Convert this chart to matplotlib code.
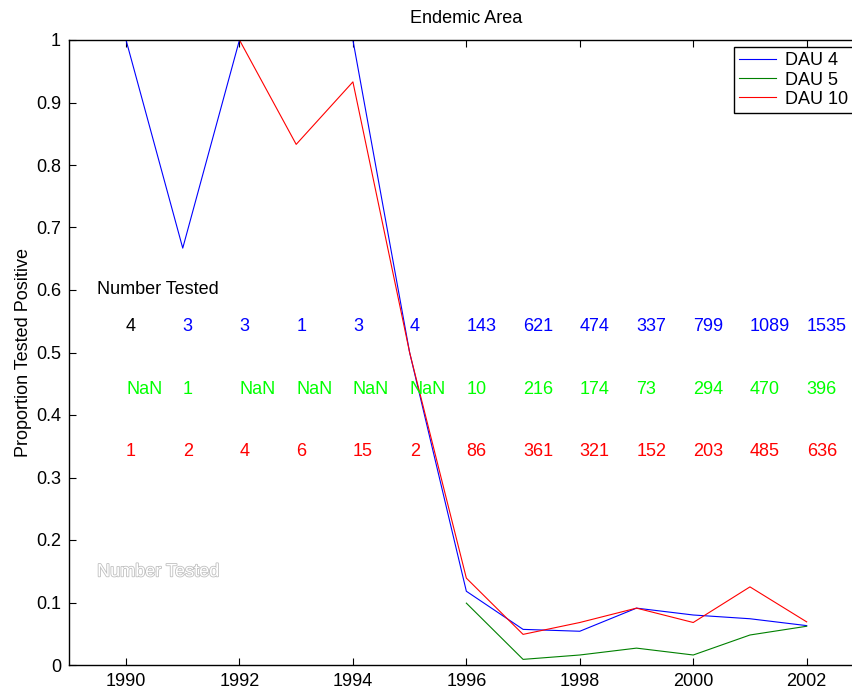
import numpy as np
import matplotlib
matplotlib.use("Agg")
import matplotlib.pyplot as plt
import matplotlib.patheffects as pe

plt.rcParams['font.family'] = ['Liberation Sans', 'DejaVu Sans']

years = [1990, 1991, 1992, 1993, 1994, 1995, 1996, 1997, 1998, 1999, 2000, 2001, 2002]
nan = np.nan
dau4 = [1.0, 0.667, 1.0, 1.0, 1.0, 0.5, 0.118, 0.057, 0.054, 0.091, 0.080, 0.074, 0.063]
dau5 = [nan, 0.0, nan, nan, nan, nan, 0.099, 0.009, 0.016, 0.027, 0.016, 0.048, 0.062]
dau10 = [1.0, 1.0, 1.0, 0.833, 0.933, 0.5, 0.139, 0.049, 0.068, 0.091, 0.068, 0.125, 0.069]

n4 = ['4', '3', '3', '1', '3', '4', '143', '621', '474', '337', '799', '1089', '1535']
n5 = ['NaN', '1', 'NaN', 'NaN', 'NaN', 'NaN', '10', '216', '174', '73', '294', '470', '396']
n10 = ['1', '2', '4', '6', '15', '2', '86', '361', '321', '152', '203', '485', '636']

W, H = 853, 690
fig = plt.figure(figsize=(W / 100, H / 100), dpi=100)
x0, x1 = 69.3, 863.4
y0, y1 = 665, 40
ax = fig.add_axes([x0 / W, 1 - y0 / H, (x1 - x0) / W, (y0 - y1) / H])

lw = 0.8
ax.plot(years, dau4, color='#0000ff', lw=lw, label='DAU 4')
ax.plot(years, dau5, color='#008000', lw=lw, label='DAU 5')
ax.plot(years, dau10, color='#ff0000', lw=lw, label='DAU 10')

fs = 13
ax.set_xlim(1989, 2003)
ax.set_ylim(0, 1)
ax.set_xticks(range(1990, 2003, 2))
ax.set_yticks(np.arange(0, 1.01, 0.1))
ax.set_yticklabels(['0', '0.1', '0.2', '0.3', '0.4', '0.5', '0.6', '0.7', '0.8', '0.9', '1'])
ax.tick_params(direction='in', length=5, width=0.8, labelsize=fs, top=True, right=True, pad=6)
for s in ax.spines.values():
    s.set_linewidth(1.0)

ax.set_title('Endemic Area', fontsize=fs, pad=12)
ax.set_ylabel('Proportion Tested Positive', fontsize=fs, labelpad=3)

ax.text(1989.49, 0.60, 'Number Tested', fontsize=fs, va='center', ha='left', color='black')
for i, yr in enumerate(years):
    ax.text(yr, 0.541, n4[i], fontsize=fs, va='center', ha='left',
            color='black' if i == 0 else '#0000ff')
    ax.text(yr, 0.441, n5[i], fontsize=fs, va='center', ha='left', color='#00ff00')
    ax.text(yr, 0.341, n10[i], fontsize=fs, va='center', ha='left', color='#ff0000')

ax.text(1989.49, 0.149, 'Number Tested', fontsize=fs, va='center', ha='left', color='white',
        path_effects=[pe.Stroke(linewidth=1.2, foreground='#c0c0c0'), pe.Normal()])

leg = ax.legend(loc='upper left', bbox_to_anchor=(734 / W, 1 - 47 / H),
                bbox_transform=fig.transFigure, borderaxespad=0, fontsize=fs,
                fancybox=False, framealpha=1, edgecolor='black',
                handlelength=2.0, handletextpad=0.5, labelspacing=0.12,
                borderpad=0.3)
leg.get_frame().set_linewidth(1.0)

fig.savefig('out.png', dpi=100)
